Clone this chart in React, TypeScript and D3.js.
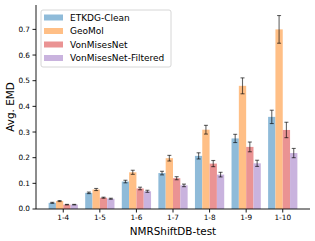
import React from "react";
import * as d3 from "d3";

const categories = ["1-4", "1-5", "1-6", "1-7", "1-8", "1-9", "1-10"];
const seriesNames = ["ETKDG-Clean", "GeoMol", "VonMisesNet", "VonMisesNet-Filtered"];
const colors = ["#8fbbd9", "#ffbf86", "#ea9393", "#c9b3de"];

const etkdg = [0.024, 0.063, 0.107, 0.14, 0.207, 0.275, 0.359];
const geomol = [0.031, 0.076, 0.143, 0.198, 0.309, 0.48, 0.7];
const vmn = [0.017, 0.044, 0.08, 0.12, 0.177, 0.242, 0.308];
const vmnFiltered = [0.017, 0.04, 0.069, 0.092, 0.134, 0.178, 0.218];

const etkdgErr = [0.002, 0.003, 0.005, 0.007, 0.012, 0.016, 0.026];
const geomolErr = [0.002, 0.004, 0.008, 0.011, 0.017, 0.031, 0.054];
const vmnErr = [0.001, 0.002, 0.005, 0.006, 0.012, 0.019, 0.03];
const vmnFilteredErr = [0.001, 0.002, 0.004, 0.005, 0.009, 0.012, 0.018];

const yTicks = [0, 0.1, 0.2, 0.3, 0.4, 0.5, 0.6, 0.7];

const values = [etkdg, geomol, vmn, vmnFiltered];
const errors = [etkdgErr, geomolErr, vmnErr, vmnFilteredErr];

export default function App() {
  const width = 315;
  const height = 241;
  const margin = { top: 5, right: 5, bottom: 32, left: 36 };
  const innerW = width - margin.left - margin.right;
  const innerH = height - margin.top - margin.bottom;
  const font = "DejaVu Sans, sans-serif";

  // category index scale, matplotlib-like margins
  const x = d3.scaleLinear().domain([-0.745, 6.745]).range([0, innerW]);
  const y = d3.scaleLinear().domain([0, 0.795]).range([innerH, 0]);
  const barW = x(0.2) - x(0);

  return (
    <div style={{ position: "absolute", left: 0, top: 0 }}>
      <svg width={width} height={height} style={{ display: "block" }}>
        <g transform={`translate(${margin.left},${margin.top})`}>
          {values.map((vals, s) =>
            vals.map((v, i) => {
              const cx = x(i + (s - 1.5) * 0.2);
              return (
                <rect
                  key={`b${s}-${i}`}
                  x={cx - barW / 2}
                  y={y(v)}
                  width={barW}
                  height={innerH - y(v)}
                  fill={colors[s]}
                />
              );
            })
          )}
          {values.map((vals, s) =>
            vals.map((v, i) => {
              const cx = x(i + (s - 1.5) * 0.2);
              const e = errors[s][i];
              return (
                <g key={`e${s}-${i}`} stroke="#000" strokeOpacity={0.6} strokeWidth={1.1}>
                  <line x1={cx} x2={cx} y1={y(v - e)} y2={y(v + e)} />
                  <line x1={cx - 2} x2={cx + 2} y1={y(v - e)} y2={y(v - e)} />
                  <line x1={cx - 2} x2={cx + 2} y1={y(v + e)} y2={y(v + e)} />
                </g>
              );
            })
          )}
          {/* axes */}
          <line x1={0} x2={0} y1={0} y2={innerH} stroke="#000" strokeWidth={0.9} />
          <line x1={0} x2={innerW} y1={innerH} y2={innerH} stroke="#000" strokeWidth={0.9} />
          {yTicks.map((t) => (
            <g key={t} transform={`translate(0,${y(t)})`}>
              <line x1={-3.5} x2={0} stroke="#000" strokeWidth={0.9} />
              <text x={-6} dy="0.34em" textAnchor="end" fontSize={7.3} fontFamily={font} fill="#000">
                {t.toFixed(1)}
              </text>
            </g>
          ))}
          {categories.map((c, i) => (
            <g key={c} transform={`translate(${x(i)},${innerH})`}>
              <line y1={0} y2={3.5} stroke="#000" strokeWidth={0.9} />
              <text y={11.3} textAnchor="middle" fontSize={7.3} fontFamily={font} fill="#000">
                {c}
              </text>
            </g>
          ))}
          <text
            x={innerW / 2}
            y={innerH + 25.5}
            textAnchor="middle"
            fontSize={10.4}
            fontFamily={font}
            fill="#000"
          >
            NMRShiftDB-test
          </text>
          <text
            transform={`translate(${-22.5},${innerH / 2}) rotate(-90)`}
            textAnchor="middle"
            fontSize={10.4}
            fontFamily={font}
            fill="#000"
          >
            Avg. EMD
          </text>
          {/* legend */}
          <g transform="translate(5,5)">
            <rect
              x={0}
              y={0}
              width={130}
              height={57}
              rx={2}
              fill="#fff"
              fillOpacity={0.8}
              stroke="#ccc"
              strokeWidth={0.8}
            />
            {seriesNames.map((n, i) => (
              <g key={n} transform={`translate(3,${7.5 + i * 13.5})`}>
                <rect x={0} y={-3} width={19} height={6} fill={colors[i]} />
                <text x={26} dy="0.35em" fontSize={9} fontFamily={font} fill="#000">
                  {n}
                </text>
              </g>
            ))}
          </g>
        </g>
      </svg>
    </div>
  );
}
